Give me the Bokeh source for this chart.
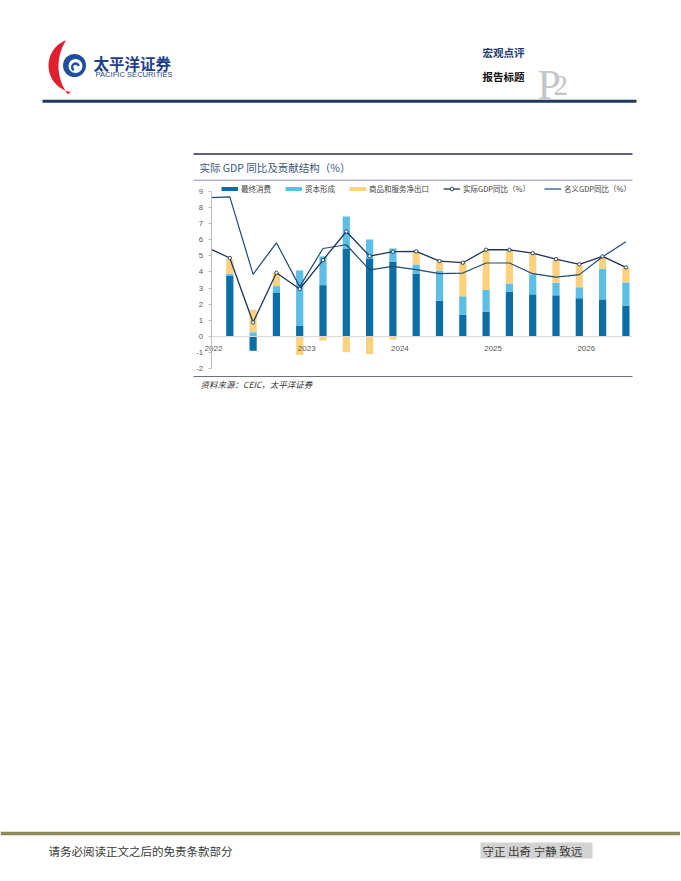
import numpy as np
from bokeh.plotting import figure
from bokeh.models import Range1d, ColumnDataSource, FixedTicker, Legend, LegendItem
from bokeh.layouts import column
from bokeh.core.properties import value
from bokeh.embed import file_html
from bokeh.resources import INLINE

# ---------------- data ----------------
chart_title = "实际 GDP 同比及贡献结构（%）"
source_note = "资料来源：CEIC，太平洋证券"
year_labels = ["2022", "2023", "2024", "2025", "2026"]
series_names = ["最终消费", "资本形成", "商品和服务净出口"]
real_gdp_name = "实际GDP同比（%）"
nominal_gdp_name = "名义GDP同比（%）"

final_consumption = [3.76, -0.89, 2.73, 0.68, 3.18, 5.45, 4.84, 4.63, 3.90, 2.22,
                     1.34, 1.54, 2.78, 2.61, 2.55, 2.37, 2.30, 1.91]
capital_formation = [0.12, 0.27, 0.39, 3.41, 1.78, 1.98, 1.17, 0.82, 0.56, 1.85,
                     1.15, 1.34, 0.47, 1.24, 0.78, 0.68, 1.90, 1.44]
net_exports = [0.89, 1.38, 0.83, -1.14, -0.25, -0.97, -1.09, -0.19, 0.79, 0.56,
               2.06, 2.43, 2.06, 1.27, 1.42, 1.37, 0.70, 0.91]
# line series: first value is read where the lines start, at the value axis
real_gdp_yoy = [5.40, 4.86, 0.87, 3.95, 2.94, 4.73, 6.50, 4.98, 5.25, 5.27,
                4.67, 4.57, 5.37, 5.37, 5.16, 4.79, 4.47, 4.96, 4.28]
nominal_gdp_yoy = [8.60, 8.65, 3.85, 5.80, 3.09, 5.45, 5.68, 4.12, 4.34, 4.14,
                   3.89, 3.93, 4.55, 4.55, 3.89, 3.68, 3.83, 4.94, 5.86]
y_ticks = [-2, -1, 0, 1, 2, 3, 4, 5, 6, 7, 8, 9]

header_brand = "太平洋证券"
header_brand_en = "PACIFIC SECURITIES"
header_type = "宏观点评"
header_title = "报告标题"
footer_note = "请务必阅读正文之后的免责条款部分"
footer_motto = "守正 出奇 宁静 致远"

# ---------------- styles ----------------
CJK = value("Noto Sans CJK SC")
LAT = value("Liberation Sans")
SER = value("Liberation Serif")
bar_colors = ["#0B6FA6", "#5DBEE6", "#FDD27E"]
real_color = "#1B3558"
nominal_color = "#1F4A78"
W = 680

# chart geometry (page pixels)
PX_X = 23.3       # pixels per period
X_ORIGIN = 206.0  # pixel of period 0
PX_Y = 16.15      # pixels per percentage point
Y_ZERO = 336.0    # pixel of value 0
CH_TOP, CH_BOT = 182, 374
AXIS_X = 0.2      # value axis sits at this period position
X_END = 18.24


def page_fig(top, bottom):
    f = figure(width=W, height=bottom - top, x_range=Range1d(0, W),
               y_range=Range1d(bottom, top), output_backend="svg",
               toolbar_location=None, x_axis_type=None, y_axis_type=None,
               min_border=0)
    f.grid.visible = False
    f.outline_line_color = None
    f.background_fill_color = "white"
    f.border_fill_color = "white"
    return f


def txt(f, x, y, s, size, color, font=CJK, style="normal", align="left",
        baseline="middle"):
    f.text(x=[x], y=[y], text=[s], text_font=font, text_font_size=size,
           text_color=color, text_font_style=value(style),
           text_align=value(align), text_baseline=value(baseline))


# ---------------- header ----------------
hdr = page_fig(0, CH_TOP)
# logo: red crescent
ax, ay, bx, by = 65.8, 39.6, 70.3, 91.6
th_o = np.radians(np.linspace(250, 100, 50))
ox = 75 + 27 * np.cos(th_o)
oy = 65 + 27 * np.sin(th_o)
my = (ay + by) / 2
cx = ((ax ** 2 + (ay - my) ** 2) - 58 ** 2) / (2 * (ax - 58))
r_in = cx - 58
a1 = np.arctan2(by - my, bx - cx)
a0 = np.arctan2(ay - my, ax - cx) + 2 * np.pi
th_i = np.linspace(a1, a0, 50)
ix = cx + r_in * np.cos(th_i)
iy = my + r_in * np.sin(th_i)
hdr.patch(np.concatenate([ox, ix]), np.concatenate([oy, iy]),
          fill_color="#E0202E", line_color=None)
hdr.scatter([74], [65], size=23, marker="circle", fill_color="#1F4F9E", line_color=None)
hdr.scatter([75], [65.5], size=14, marker="circle", fill_color="white", line_color=None)
hdr.annular_wedge(x=[75], y=[66.5], inner_radius=2.2, outer_radius=4.6,
                  start_angle=0.3, end_angle=4.2, fill_color="#1F4F9E", line_color=None)
txt(hdr, 93, 62, header_brand, "15.5px", "#1E3F8A", style="bold")
txt(hdr, 95, 73.5, header_brand_en, "7.6px", "#2B4A86", font=LAT)
txt(hdr, 482, 52, header_type, "10.5px", "#1F3A6E", style="bold")
txt(hdr, 482, 76, header_title, "10.5px", "#111111", style="bold")
txt(hdr, 537, 84.5, "P", "42px", "#C6C6C6", font=SER, baseline="alphabetic")
txt(hdr, 553, 84.5, "2", "29px", "#C6C6C6", font=SER, baseline="alphabetic")
hdr.segment(x0=[42], y0=[100.8], x1=[636], y1=[100.8], line_width=3, line_color="#1F3A5F")
# chart title block
hdr.segment(x0=[193], y0=[153.5], x1=[632], y1=[153.5], line_width=2, line_color="#5E5E7E")
txt(hdr, 199, 167, chart_title, "10.5px", "#3A5579")
hdr.segment(x0=[193], y0=[179.7], x1=[632], y1=[179.7], line_width=1, line_color="#8E8EA6")

# ---------------- chart ----------------
n = len(final_consumption)
x_bar = np.arange(1, n + 1)
x_line = np.concatenate([[AXIS_X], x_bar])

p = figure(width=W, height=CH_BOT - CH_TOP,
           x_range=Range1d(-X_ORIGIN / PX_X, (W - X_ORIGIN) / PX_X),
           y_range=Range1d(-(CH_BOT - Y_ZERO) / PX_Y, (Y_ZERO - CH_TOP) / PX_Y),
           output_backend="svg", toolbar_location=None, min_border=0)
p.grid.visible = False
p.outline_line_color = None
p.background_fill_color = "white"
p.border_fill_color = "white"

pos_base = np.zeros(n)
neg_base = np.zeros(n)
bar_renderers = []
for vals, color in zip([final_consumption, capital_formation, net_exports], bar_colors):
    v = np.array(vals)
    bottom = np.where(v >= 0, pos_base, neg_base)
    top = bottom + v
    pos_base = pos_base + np.clip(v, 0, None)
    neg_base = neg_base + np.clip(v, None, 0)
    src = ColumnDataSource(dict(x=x_bar, bottom=bottom, top=top))
    r = p.vbar(x="x", bottom="bottom", top="top", width=0.31, source=src,
               fill_color=color, line_color=None)
    bar_renderers.append(r)

r_nom = p.line(x_line, nominal_gdp_yoy, line_color=nominal_color, line_width=1.2)
r_real = p.line(x_line, real_gdp_yoy, line_color=real_color, line_width=1.3)
r_real_pts = p.scatter(x_bar, real_gdp_yoy[1:], marker="circle", size=3.4,
                       fill_color="white", line_color=real_color, line_width=0.9)

# legend swatches (thick strokes like the reference legend)
swatches = [p.line(x=[np.nan], y=[np.nan], line_color=c, line_width=4) for c in bar_colors]

# y axis
yax = p.yaxis[0]
yax.fixed_location = AXIS_X
yax.ticker = FixedTicker(ticks=y_ticks)
yax.bounds = (min(y_ticks), max(y_ticks))
yax.major_label_overrides = {t: str(t) for t in y_ticks if t < 0}
yax.axis_line_color = "#BFBFBF"
yax.major_tick_line_color = "#BFBFBF"
yax.major_tick_out = 3
yax.major_tick_in = 0
yax.minor_tick_line_color = None
yax.major_label_standoff = 5
yax.major_label_text_font = "Liberation Sans"
yax.major_label_text_font_size = "7.8px"
yax.major_label_text_color = "#595959"

# x axis (years) sitting on the zero line
year_ticks = [round(0.3 + 4 * k, 2) for k in range(len(year_labels))]
xax = p.xaxis[0]
xax.fixed_location = 0
xax.bounds = (AXIS_X, X_END)
xax.ticker = FixedTicker(ticks=year_ticks)
xax.major_label_overrides = {t: lab for t, lab in zip(year_ticks, year_labels)}
xax.axis_line_color = "#D9D9D9"
xax.major_tick_line_color = None
xax.minor_tick_line_color = None
xax.major_label_standoff = 3
xax.major_label_text_font = "Liberation Sans"
xax.major_label_text_font_size = "8px"
xax.major_label_text_color = "#595959"

legend = Legend(items=[
    LegendItem(label=series_names[0], renderers=[swatches[0]]),
    LegendItem(label=series_names[1], renderers=[swatches[1]]),
    LegendItem(label=series_names[2], renderers=[swatches[2]]),
    LegendItem(label=real_gdp_name, renderers=[r_real, r_real_pts]),
    LegendItem(label=nominal_gdp_name, renderers=[r_nom]),
], location=(221, 180), orientation="horizontal", glyph_width=17, glyph_height=9,
    label_height=9, label_standoff=3, spacing=14, padding=0, margin=0,
    background_fill_alpha=0, border_line_color=None,
    label_text_font="Noto Sans CJK SC", label_text_font_size="7.5px",
    label_text_color="#404040")
p.add_layout(legend)

# ---------------- footer ----------------
ftr = page_fig(CH_BOT, 876)
ftr.segment(x0=[193], y0=[376], x1=[632], y1=[376], line_width=1.2, line_color="#6E6E84")
txt(ftr, 200, 383, source_note, "8.5px", "#333333", style="italic")
ftr.segment(x0=[0], y0=[833], x1=[W], y1=[833], line_width=3.5, line_color="#8C8858")
txt(ftr, 48, 850, footer_note, "11.5px", "#3A3A3A")
ftr.quad(left=[480], right=[592], top=[842], bottom=[858], fill_color="#D3D3D3", line_color=None)
txt(ftr, 482, 850, footer_motto, "11.5px", "#3A3A3A")

page = column(hdr, p, ftr, spacing=0)
open("out.html", "w").write(file_html(page, INLINE))
